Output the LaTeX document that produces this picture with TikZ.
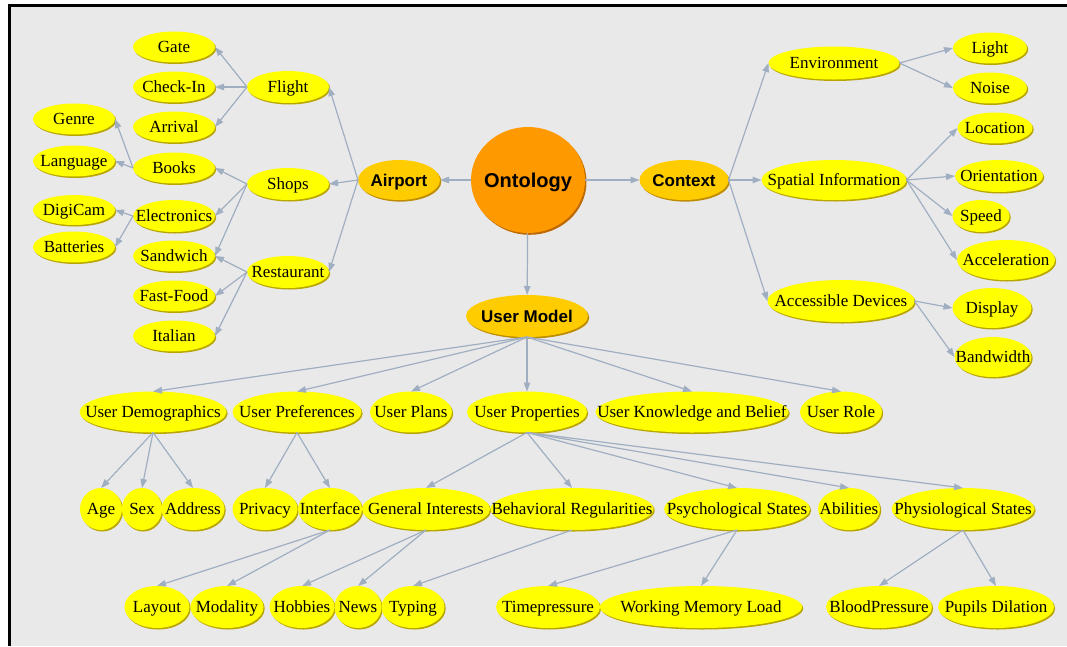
\documentclass[tikz,border=0pt]{standalone}
\usepackage{fontspec}
\setmainfont{Liberation Serif}
\setsansfont{Liberation Sans}
\usetikzlibrary{arrows.meta,shapes.geometric,shadows}
\definecolor{bgcol}{HTML}{E9E9E9}
\definecolor{edgecol}{RGB}{160,174,194}
\definecolor{leafcol}{HTML}{FFFF00}
\definecolor{leafshadow}{RGB}{185,165,0}
\definecolor{midcol}{HTML}{FFCC00}
\definecolor{midshadow}{RGB}{190,140,0}
\definecolor{ontcol}{HTML}{FF9900}
\definecolor{ontshadow}{RGB}{190,105,0}
\tikzset{
  basenode/.style={ellipse, inner sep=0pt, outer sep=0pt},
  leaf/.style={basenode, fill=leafcol,
    general shadow={shadow xshift=1.2pt, shadow yshift=-1.5pt, fill=leafshadow},
    font=\fontsize{17}{20}\selectfont, text height=11.3pt, text depth=0pt},
  mid/.style={basenode, fill=midcol,
    general shadow={shadow xshift=1.3pt, shadow yshift=-1.6pt, fill=midshadow},
    font=\sffamily\bfseries\fontsize{17}{20}\selectfont, text height=12.2pt, text depth=0pt},
  ontnode/.style={basenode, fill=ontcol,
    general shadow={shadow xshift=1.5pt, shadow yshift=-1.8pt, fill=ontshadow},
    font=\sffamily\bfseries\fontsize{20}{24}\selectfont, text height=14.3pt, text depth=0pt},
  conn/.style={draw=edgecol, line width=1.2pt, -{Triangle[length=9pt,width=6.5pt]}}
}
\newcommand\Lf[6]{\node[leaf, minimum width=#4pt, minimum height=#5pt] (#1) at (#2,#3) {\makebox[0pt]{#6}};}
\newcommand\Md[6]{\node[mid, minimum width=#4pt, minimum height=#5pt] (#1) at (#2,#3) {\makebox[0pt]{#6}};}
\begin{document}
\begin{tikzpicture}[x=1pt,y=-1pt]
\useasboundingbox (0,0) rectangle (1067,646);
\fill[white] (0,0) rectangle (1067,646);
\fill[bgcol] (9,5) rectangle (1067,646);
\draw[black, line width=3pt] (9.5,646) -- (9.5,5.5) -- (1067,5.5);

% central nodes
\node[ontnode, minimum width=114pt, minimum height=106pt] (ont) at (528,180) {\makebox[0pt]{Ontology}};
\Md{airport}{399}{180}{82}{40}{Airport}
\Md{context}{684}{180}{89}{40}{Context}
\Md{usermodel}{527}{316}{122}{42}{User Model}

% airport branch
\Lf{gate}{174}{47}{82}{31}{Gate}
\Lf{checkin}{174}{87}{82}{31}{Check-In}
\Lf{arrival}{174}{127}{82}{31}{Arrival}
\Lf{flight}{288}{87}{82}{32}{Flight}
\Lf{genre}{74}{119}{82}{31}{Genre}
\Lf{language}{74}{161}{82}{31}{Language}
\Lf{books}{174}{168}{82}{31}{Books}
\Lf{shops}{288}{184}{82}{32}{Shops}
\Lf{digicam}{74}{210}{82}{30}{DigiCam}
\Lf{batteries}{74}{247}{82}{31}{Batteries}
\Lf{electronics}{174}{216}{82}{32}{Electronics}
\Lf{sandwich}{174}{256}{82}{31}{Sandwich}
\Lf{fastfood}{174}{296}{82}{31}{Fast-Food}
\Lf{italian}{174}{336}{82}{31}{Italian}
\Lf{restaurant}{288}{272}{82}{32}{Restaurant}

% context branch
\Lf{environment}{834}{63}{131}{33}{Environment}
\Lf{light}{990}{48}{74}{31}{Light}
\Lf{noise}{990}{88}{74}{31}{Noise}
\Lf{location}{995}{128}{75}{31}{Location}
\Lf{spatial}{834}{180}{145}{40}{Spatial Information}
\Lf{orientation}{999}{176}{88}{32}{Orientation}
\Lf{speed}{981}{216}{57}{32}{Speed}
\Lf{acceleration}{1006}{260}{98}{40}{Acceleration}
\Lf{accessible}{841}{301}{147}{42}{Accessible Devices}
\Lf{display}{992}{308}{79}{40}{Display}
\Lf{bandwidth}{993}{357}{77}{40}{Bandwidth}

% user model level 2
\Lf{demographics}{153}{412}{147}{41}{User Demographics}
\Lf{preferences}{297}{412}{129}{41}{User Preferences}
\Lf{plans}{411}{412}{82}{41}{User Plans}
\Lf{properties}{527}{412}{120}{41}{User Properties}
\Lf{knowledge}{692}{412}{193}{41}{User Knowledge and Belief}
\Lf{role}{841}{412}{82}{41}{User Role}

% level 3
\Lf{age}{101}{509}{42}{42}{Age}
\Lf{sex}{142}{509}{40}{42}{Sex}
\Lf{address}{193}{509}{63}{42}{Address}
\Lf{privacy}{265}{509}{65}{42}{Privacy}
\Lf{interface}{330}{509}{64}{42}{Interface}
\Lf{general}{426}{509}{128}{42}{General Interests}
\Lf{behavioral}{572}{509}{163}{42}{Behavioral Regularities}
\Lf{psychological}{737}{509}{146}{42}{Psychological States}
\Lf{abilities}{849}{509}{62}{42}{Abilities}
\Lf{physiological}{963}{509}{143}{42}{Physiological States}

% level 4
\Lf{layout}{157}{607}{65}{42}{Layout}
\Lf{modality}{227}{607}{73}{42}{Modality}
\Lf{hobbies}{302}{607}{65}{42}{Hobbies}
\Lf{news}{358}{607}{47}{42}{News}
\Lf{typing}{413}{607}{63}{42}{Typing}
\Lf{timepressure}{548}{607}{104}{42}{Timepressure}
\Lf{wml}{701}{607}{202}{42}{Working Memory Load}
\Lf{bloodpressure}{879}{607}{106}{42}{BloodPressure}
\Lf{pupils}{996}{607}{116}{42}{Pupils Dilation}

% connectors
\draw[conn] (ont) -- (airport);
\draw[conn] (ont) -- (context);
\draw[conn] (ont) -- (usermodel);

\foreach \c in {flight,shops,restaurant} \draw[conn] (airport.west) -- (\c.east);
\foreach \c in {gate,checkin,arrival} \draw[conn] (flight.west) -- (\c.east);
\foreach \c in {books,electronics,sandwich} \draw[conn] (shops.west) -- (\c.east);
\foreach \c in {genre,language} \draw[conn] (books.west) -- (\c.east);
\foreach \c in {digicam,batteries} \draw[conn] (electronics.west) -- (\c.east);
\foreach \c in {sandwich,fastfood,italian} \draw[conn] (restaurant.west) -- (\c.east);

\foreach \c in {environment,spatial,accessible} \draw[conn] (context.east) -- (\c.west);
\foreach \c in {light,noise} \draw[conn] (environment.east) -- (\c.west);
\foreach \c in {location,orientation,speed,acceleration} \draw[conn] (spatial.east) -- (\c.west);
\foreach \c in {display,bandwidth} \draw[conn] (accessible.east) -- (\c.west);

\foreach \c in {demographics,preferences,plans,properties,knowledge,role} \draw[conn] (usermodel.south) -- (\c.north);
\foreach \c in {age,sex,address} \draw[conn] (demographics.south) -- (\c.north);
\foreach \c in {privacy,interface} \draw[conn] (preferences.south) -- (\c.north);
\foreach \c in {general,behavioral,psychological,abilities,physiological} \draw[conn] (properties.south) -- (\c.north);
\foreach \c in {layout,modality} \draw[conn] (interface.south) -- (\c.north);
\foreach \c in {hobbies,news} \draw[conn] (general.south) -- (\c.north);
\draw[conn] (behavioral.south) -- (typing.north);
\foreach \c in {timepressure,wml} \draw[conn] (psychological.south) -- (\c.north);
\foreach \c in {bloodpressure,pupils} \draw[conn] (physiological.south) -- (\c.north);
\end{tikzpicture}
\end{document}
